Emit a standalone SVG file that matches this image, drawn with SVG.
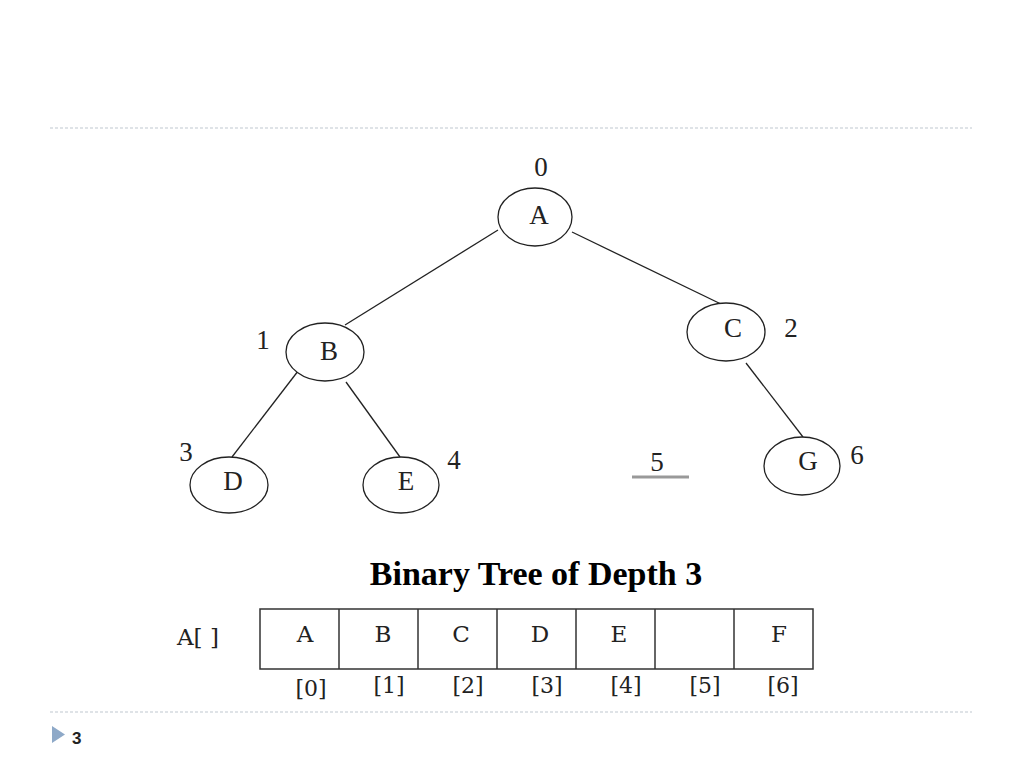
<svg xmlns="http://www.w3.org/2000/svg" width="1024" height="768" viewBox="0 0 1024 768">
<style>
.sep{stroke:#c0c8d0;stroke-width:1.2;stroke-dasharray:3,2;fill:none}
.node ellipse{fill:#fff;stroke:#222;stroke-width:1.3}
.lbl{font-family:"Liberation Serif",serif;font-size:27px;fill:#222;text-anchor:middle}
.num{font-family:"Liberation Serif",serif;font-size:27px;fill:#222;text-anchor:middle}
.edge{stroke:#222;stroke-width:1.3;fill:none}
.cell{font-family:"DejaVu Serif","Liberation Serif",serif;font-size:23px;fill:#222;text-anchor:middle}
.idx{font-family:"DejaVu Serif","Liberation Serif",serif;font-size:22px;fill:#222;text-anchor:middle}
</style>
<rect width="1024" height="768" fill="#fff"/>
<line class="sep" x1="50" y1="128" x2="972" y2="128"/>
<line class="sep" x1="50" y1="712" x2="972" y2="712"/>
<g id="connectors">
<line class="edge" x1="498" y1="230" x2="345" y2="325"/>
<line class="edge" x1="572" y1="232" x2="723" y2="305"/>
<line class="edge" x1="305" y1="362" x2="232" y2="457"/>
<line class="edge" x1="346" y1="382" x2="400" y2="457"/>
<line class="edge" x1="746" y1="363" x2="803" y2="437"/>
</g>
<g id="nodeA" class="node"><ellipse cx="535" cy="217" rx="37" ry="29"/><text class="lbl" x="539" y="224">A</text><text class="num" x="541" y="176">0</text></g>
<g id="nodeB" class="node"><ellipse cx="325" cy="352" rx="39" ry="29"/><text class="lbl" x="329" y="360">B</text><text class="num" x="263" y="349">1</text></g>
<g id="nodeC" class="node"><ellipse cx="726" cy="332" rx="39" ry="29"/><text class="lbl" x="733" y="337">C</text><text class="num" x="791" y="337">2</text></g>
<g id="nodeD" class="node"><ellipse cx="229" cy="485" rx="39" ry="28"/><text class="lbl" x="233" y="490">D</text><text class="num" x="186" y="461">3</text></g>
<g id="nodeE" class="node"><ellipse cx="401" cy="485" rx="38" ry="28"/><text class="lbl" x="406" y="490">E</text><text class="num" x="454" y="469">4</text></g>
<g id="nodeG" class="node"><ellipse cx="802" cy="466" rx="38" ry="29"/><text class="lbl" x="808" y="470">G</text><text class="num" x="857" y="464">6</text></g>
<g id="slot5"><text class="num" x="657" y="471">5</text><line x1="632" y1="477" x2="689" y2="477" stroke="#999" stroke-width="3"/></g>
<text x="536" y="585" font-family="Liberation Serif,serif" font-size="34" font-weight="bold" text-anchor="middle" fill="#000">Binary Tree of Depth 3</text>
<g id="array">
<text x="177" y="645" font-family="DejaVu Serif,Liberation Serif,serif" font-size="23" fill="#222">A[ ]</text>
<rect x="260" y="609" width="553" height="60" fill="none" stroke="#333" stroke-width="1.5"/>
<g stroke="#333" stroke-width="1.5"><line x1="339" y1="609" x2="339" y2="669"/><line x1="418" y1="609" x2="418" y2="669"/><line x1="497" y1="609" x2="497" y2="669"/><line x1="576" y1="609" x2="576" y2="669"/><line x1="655" y1="609" x2="655" y2="669"/><line x1="734" y1="609" x2="734" y2="669"/></g>
<text class="cell" x="305" y="642">A</text><text class="cell" x="383" y="642">B</text><text class="cell" x="461" y="642">C</text><text class="cell" x="540" y="642">D</text><text class="cell" x="619" y="642">E</text><text class="cell" x="779" y="642">F</text>
<text class="idx" x="311" y="696">[0]</text><text class="idx" x="389" y="693">[1]</text><text class="idx" x="468" y="693">[2]</text><text class="idx" x="547" y="693">[3]</text><text class="idx" x="626" y="693">[4]</text><text class="idx" x="705" y="693">[5]</text><text class="idx" x="783" y="693">[6]</text>
</g>
<polygon points="52,726 52,743 65,734.5" fill="#8ea9c8"/>
<text x="72" y="744" font-family="Liberation Sans,sans-serif" font-size="17" font-weight="bold" fill="#222">3</text>
</svg>
